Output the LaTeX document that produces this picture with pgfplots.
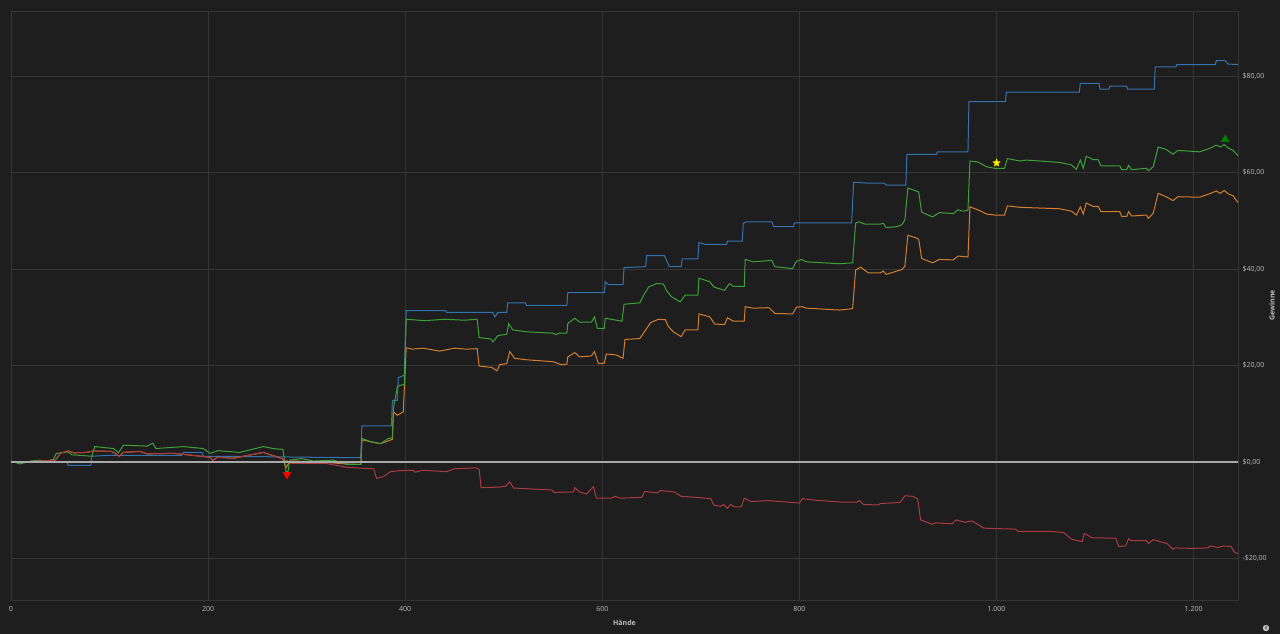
\documentclass[border=0pt]{standalone}
\usepackage{fontspec}
\setmainfont{Open Sans}
\usepackage{pgfplots}
\pgfplotsset{compat=1.18}
\usetikzlibrary{shapes.geometric}
\definecolor{bg}{HTML}{1E1E1E}
\definecolor{gridc}{HTML}{353535}
\definecolor{txt}{HTML}{BDBDBD}
\definecolor{cblue}{HTML}{3473AD}
\definecolor{cgreen}{HTML}{3DA13A}
\definecolor{corange}{HTML}{D27E2E}
\definecolor{cred}{HTML}{A83B3F}
\definecolor{zeroc}{HTML}{A8A8A8}
\pgfdeclareplotmark{fstar}{\node[star,star points=5,star point ratio=2.3,fill=yellow,draw=none,inner sep=0pt,minimum size=9pt]{};}
\begin{document}
\begin{tikzpicture}[x=1pt,y=1pt]
\fill[bg] (0,0) rectangle (1280,634);
\begin{axis}[
  at={(11pt,34pt)}, anchor=south west, scale only axis,
  width=1227pt, height=589pt,
  xmin=0, xmax=1245, ymin=-28.6, ymax=93.5,
  axis line style={gridc, line width=0.8pt},
  grid=major, major grid style={gridc, line width=0.8pt},
  major tick length=0pt,
  xtick={0,200,400,600,800,1000,1200},
  xticklabels={0,200,400,600,800,{1.000},{1.200}},
  ytick={-20,0,20,40,60,80},
  yticklabels={{-\$20,00},{\$0,00},{\$20,00},{\$40,00},{\$60,00},{\$80,00}},
  yticklabel pos=right,
  ticklabel style={font=\fontsize{7}{8}\selectfont, text=txt},
  xticklabel style={yshift=-3pt},
  yticklabel style={xshift=1pt},
  /pgf/number format/assume math mode=true,
  xlabel={Hände}, ylabel={Gewinne},
  xlabel style={at={(axis description cs:0.5,-0.039)}, anchor=center, font=\fontsize{7}{8}\selectfont\bfseries, text=txt},
  ylabel style={at={(axis description cs:1.0277,0.5)}, anchor=center, rotate=0, font=\fontsize{7}{8}\selectfont\bfseries, text=txt},
  clip=false,
]
\addplot[cblue, line width=1pt] coordinates {
(0,0) (10,0.1) (20,-0.1) (30,0.1) (57,0) (58,-0.7) (81,-0.7) (82,1.2) (100,1.4) (173,1.4) (175,2.0) (194,2.0) (195,1.2) (260,1.1) (300,1.0) (355,0.9) (356,7.5) (386,7.5) (387,12.8) (392,12.8) (393,17.5) (399,18.0) (401,31.4) (441,31.4) (442,31.0) (489,31.0) (491,30.1) (494,31.0) (503,31.0) (504,33.0) (522,33.0) (523,32.5) (564,32.5) (565,35.1) (602,35.1) (603,37.4) (606,36.8) (621,36.8) (622,40.3) (644,40.5) (645,42.8) (663,42.8) (665,41.9) (668,40.5) (680,40.5) (681,42.1) (697,42.1) (698,45.5) (705,45.1) (726,45.1) (727,45.8) (742,45.8) (743,49.5) (746,49.8) (772,49.8) (774,48.8) (794,48.8) (795,49.6) (853,49.6) (855,58.0) (870,57.8) (886,57.8) (888,57.4) (908,57.4) (909,63.8) (939,63.8) (940,64.3) (971,64.3) (972,74.7) (1009,74.7) (1010,76.7) (1084,76.7) (1085,78.5) (1104,78.5) (1105,77.3) (1114,77.3) (1115,77.9) (1132,77.9) (1133,77.3) (1160,77.3) (1161,81.9) (1182,81.9) (1183,82.4) (1222,82.4) (1223,83.2) (1232,83.2) (1235,82.5) (1245,82.4)
};
\addplot[corange, line width=1pt] coordinates {
(0,0) (20,0.1) (45,0.4) (50,1.8) (58,2.3) (64,1.9) (77,2.0) (84,2.3) (102,2.2) (110,1.2) (114,2.0) (131,2.2) (138,1.7) (165,1.8) (202,1.0) (205,0.3) (209,1.0) (226,0.8) (256,2.0) (263,1.5) (271,1.0) (276,0.6) (279,-1.2) (283,0.2) (307,0.1) (341,-0.4) (355,-0.5) (356,4.6) (375,3.8) (387,4.7) (388,10.4) (392,9.7) (398,10.4) (401,23.7) (407,23.4) (418,23.6) (435,23.0) (450,23.6) (462,23.4) (473,23.5) (475,19.9) (488,19.6) (493,18.9) (496,20.2) (503,20.4) (506,22.9) (511,21.5) (523,21.2) (550,20.8) (558,20.2) (564,20.3) (565,21.8) (572,22.7) (577,21.8) (589,22.0) (592,22.9) (596,20.4) (602,20.5) (604,22.4) (614,22.2) (621,21.5) (623,25.4) (638,25.6) (644,27.4) (649,28.9) (657,29.6) (664,29.5) (667,28.1) (672,27.0) (680,26.0) (684,27.4) (697,27.4) (698,30.7) (709,30.1) (714,28.6) (724,28.5) (727,29.9) (733,29.2) (744,29.2) (745,32.2) (753,31.9) (769,32.0) (775,30.8) (793,30.7) (797,32.1) (803,32.2) (807,31.9) (841,31.5) (854,31.8) (857,39.8) (862,40.4) (870,39.2) (882,39.2) (885,39.6) (888,38.9) (904,39.9) (907,40.6) (910,47.0) (918,46.5) (921,46.2) (924,42.2) (935,41.3) (942,42.0) (956,41.9) (961,42.7) (971,42.5) (973,52.9) (982,52.2) (990,51.4) (998,51.2) (1008,51.2) (1011,53.1) (1024,52.8) (1051,52.6) (1064,52.5) (1076,52.0) (1081,51.2) (1085,52.9) (1088,51.4) (1091,53.7) (1098,53.0) (1103,53.0) (1106,51.9) (1125,51.9) (1127,50.9) (1132,50.9) (1134,51.9) (1137,51.0) (1152,51.2) (1154,50.5) (1159,51.6) (1164,55.7) (1172,55.0) (1179,54.2) (1184,55.0) (1206,54.9) (1216,55.6) (1223,56.2) (1227,55.7) (1231,56.3) (1235,55.6) (1240,55.2) (1245,53.8)
};
\addplot[cgreen, line width=1pt] coordinates {
(0,0.2) (9,-0.4) (20,0.2) (30,0.4) (33,0) (43,0.55) (46,1.8) (58,2.1) (62,1.5) (82,1.2) (85,3.2) (104,2.8) (109,1.9) (114,3.5) (138,3.3) (144,3.9) (147,2.8) (175,3.2) (195,2.8) (202,1.8) (210,2.35) (232,2.0) (256,3.2) (266,2.8) (276,2.6) (279,-2.0) (281,-2.0) (283,0.4) (295,0.7) (307,0.2) (327,0.4) (341,-0.5) (355,-0.5) (356,4.9) (365,4.2) (375,3.8) (383,4.9) (387,5.0) (388,11.1) (392,15.6) (396,16.0) (399,16.0) (401,29.6) (420,29.3) (440,29.6) (460,29.4) (473,29.6) (475,25.8) (487,25.5) (489,24.9) (494,26.2) (503,26.5) (505,28.7) (509,27.4) (523,27.0) (550,26.7) (553,26.4) (556,26.7) (564,26.7) (565,28.7) (572,29.8) (577,29.0) (589,29.0) (592,30.1) (595,27.7) (602,27.7) (603,29.8) (620,29.2) (622,32.7) (638,33.0) (642,34.6) (647,36.3) (655,37.0) (662,36.9) (665,35.6) (670,34.3) (679,33.2) (684,34.6) (697,34.6) (698,38.1) (709,37.4) (713,36.3) (719,35.9) (724,35.6) (729,37.0) (733,36.4) (744,36.4) (745,42.0) (753,41.5) (772,41.8) (775,40.5) (793,40.1) (797,41.6) (802,42.0) (807,41.5) (841,41.1) (854,41.3) (857,49.5) (860,49.8) (867,49.3) (882,49.3) (885,49.5) (888,48.6) (899,48.8) (904,49.2) (907,50.2) (910,56.8) (918,56.2) (921,56.0) (924,51.8) (935,50.8) (942,51.7) (956,51.5) (961,52.3) (966,52.0) (971,52.2) (973,62.4) (981,62.2) (990,61.2) (998,60.9) (1008,60.9) (1011,62.9) (1024,62.4) (1030,62.6) (1051,62.3) (1064,62.1) (1076,61.6) (1081,60.7) (1085,62.6) (1088,60.9) (1091,63.4) (1098,62.7) (1103,62.7) (1106,61.4) (1125,61.4) (1127,60.6) (1132,60.6) (1134,61.5) (1137,60.6) (1152,60.9) (1154,60.4) (1159,61.2) (1164,65.3) (1172,64.8) (1179,63.8) (1184,64.6) (1206,64.3) (1216,65.0) (1223,65.7) (1227,65.3) (1231,65.8) (1235,65.1) (1240,64.6) (1245,63.5)
};
\addplot[cred, line width=1pt] coordinates {
(0,0) (20,0.1) (45,0.4) (50,1.8) (58,2.3) (64,1.9) (77,2.0) (84,2.3) (102,2.2) (110,1.2) (114,2.0) (131,2.2) (138,1.7) (165,1.8) (202,1.0) (205,0.3) (209,1.0) (226,0.8) (256,2.0) (263,1.5) (271,1.0) (280,0.3) (285,-0.3) (320,-0.3) (341,-1.1) (357,-1.3) (368,-1.4) (371,-3.4) (378,-3.0) (385,-2.0) (394,-1.8) (408,-1.7) (410,-2.1) (418,-1.7) (442,-2.0) (450,-1.4) (472,-1.2) (475,-1.5) (477,-5.3) (496,-5.2) (502,-5.0) (506,-4.1) (510,-5.4) (530,-5.6) (549,-5.8) (551,-6.3) (571,-6.2) (572,-5.3) (577,-6.2) (584,-6.6) (591,-5.1) (594,-7.5) (609,-7.5) (613,-7.1) (618,-7.5) (640,-7.3) (643,-6.1) (656,-6.4) (659,-5.9) (673,-6.2) (680,-7.1) (700,-7.4) (710,-7.6) (713,-8.9) (720,-9.2) (723,-8.8) (727,-9.6) (730,-8.8) (734,-9.3) (741,-9.3) (744,-7.5) (751,-8.2) (768,-8.0) (788,-8.3) (800,-8.5) (803,-7.6) (815,-7.9) (842,-8.3) (858,-8.3) (861,-8.0) (865,-8.8) (880,-8.9) (882,-8.6) (902,-8.4) (907,-7.0) (915,-7.1) (920,-7.7) (923,-12.0) (935,-12.9) (938,-12.6) (955,-12.8) (959,-12.0) (968,-12.5) (975,-12.2) (980,-12.8) (987,-13.7) (999,-13.8) (1019,-13.9) (1022,-14.4) (1056,-14.4) (1068,-14.6) (1076,-16.0) (1087,-16.5) (1089,-14.8) (1097,-15.7) (1121,-15.8) (1124,-17.5) (1131,-17.4) (1134,-15.9) (1137,-16.3) (1152,-16.3) (1154,-16.9) (1159,-16.1) (1173,-16.9) (1179,-18.1) (1181,-17.8) (1198,-17.9) (1215,-17.8) (1216,-17.4) (1225,-17.7) (1230,-17.4) (1238,-17.5) (1241,-18.6) (1245,-19.0)
};
\addplot[zeroc, line width=1.3pt] coordinates {(0,0) (1245,0)};
\addplot[only marks, mark=triangle*, mark size=4.5pt, mark options={rotate=180, fill=red, draw=red}] coordinates {(280,-2.6)};
\addplot[only marks, mark=fstar] coordinates {(1000,62.0)};
\addplot[only marks, mark=triangle*, mark size=4.5pt, mark options={fill={rgb,255:red,0;green,128;blue,0}, draw={rgb,255:red,0;green,128;blue,0}}] coordinates {(1232,66.9)};
\end{axis}
\node[circle, fill=txt, inner sep=0pt, minimum size=6.5pt] at (1266,6) {};
\node[text=bg, font=\fontsize{5}{5}\selectfont\bfseries, inner sep=0pt] at (1266,6) {i};
\pgfresetboundingbox
\path[use as bounding box] (0,0) rectangle (1280,634);
\end{tikzpicture}
\end{document}
